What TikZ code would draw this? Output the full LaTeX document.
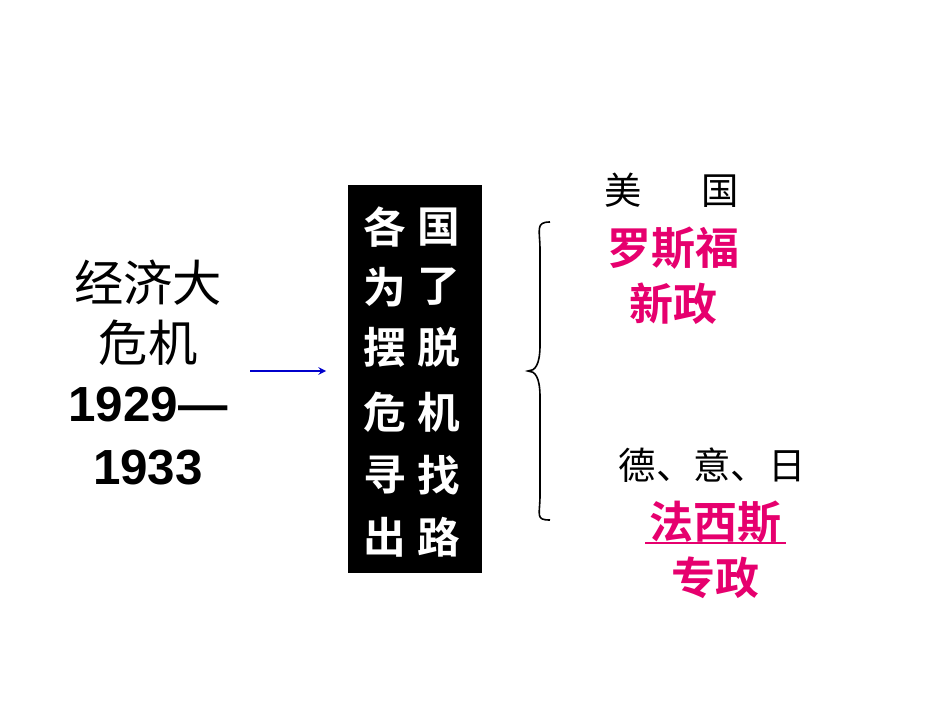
\documentclass[tikz,border=0pt]{standalone}
\usepackage{fontspec}
\newfontfamily\cjk{Noto Sans CJK SC}
\newfontfamily\cjkb{Noto Sans CJK SC Bold}
\setmainfont{Liberation Sans}
\definecolor{pk}{RGB}{230,0,110}
\begin{document}
\begin{tikzpicture}[x=0.75pt,y=-0.75pt,
  lt/.style={font=\cjk\fontsize{37}{46}\selectfont,align=center,inner sep=0},
  bx/.style={font=\cjkb\fontsize{32}{45}\selectfont,text=white,inner sep=0},
  bk/.style={font=\cjk\fontsize{28}{34}\selectfont,inner sep=0},
  pkt/.style={font=\cjkb\fontsize{33}{40}\selectfont,text=pk,inner sep=0}]
\useasboundingbox (0,0) rectangle (950,713);
\node[lt] (l1) at (148,283) {经济大};
\node[lt] (l2) at (148,343) {危机};
\node[lt,font=\bfseries\fontsize{37}{46}\selectfont] (l3) at (148,405) {1929—};
\node[lt,font=\bfseries\fontsize{37}{46}\selectfont] (l4) at (148,468) {1933};
\coordinate (a1) at (250,371); \coordinate (a2) at (326,371);
\draw[blue!80!black,line width=1.5pt,-stealth] (a1) -- (a2);
\node[fill=black,minimum width=100.5pt,minimum height=291pt,inner sep=0] (box) at (415,379) {};
\foreach \y/\a/\b in {227/各/国,287/为/了,347/摆/脱,412/危/机,475/寻/找,537/出/路}{
  \node[bx] at (385,\y) {\a}; \node[bx] at (439,\y) {\b};}
\draw[line width=1.2pt] (550,222) .. controls (535,222) and (540,230) .. (540,250) -- (540,345) .. controls (540,365) and (535,371) .. (528,371) .. controls (535,371) and (540,377) .. (540,397) -- (540,495) .. controls (540,515) and (535,520) .. (550,520);
\node[bk] (us) at (672,190) {美\hspace{1.6em}国};
\node[pkt] (r1) at (673,248) {罗斯福};
\node[pkt] (r2) at (673,304) {新政};
\node[bk] (g) at (712,465) {德、意、日};
\node[pkt] (f1) at (715,522) {法西斯};
\draw[pk,line width=1pt] (645,543) -- (786,543);
\node[pkt] (f2) at (715,578) {专政};
\end{tikzpicture}
\end{document}
